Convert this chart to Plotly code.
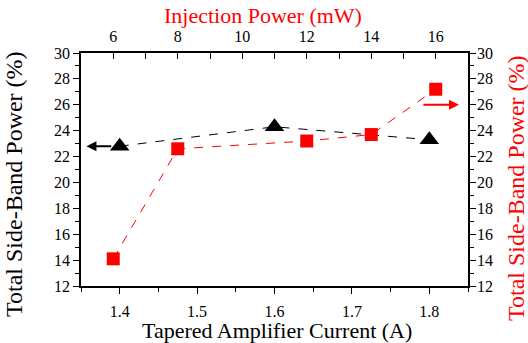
import plotly.graph_objects as go

# Data
ta_current = [1.4, 1.6, 1.8]                 # A (bottom axis)
sideband_vs_current = [22.8, 24.3, 23.3]     # % (left axis)

injection_power = [6, 8, 12, 14, 16]          # mW (top axis)
sideband_vs_power = [14.1, 22.6, 23.2, 23.7, 27.2]  # % (right axis)

FONT = "Liberation Serif, Times New Roman, Times, serif"

fig = go.Figure()
fig.add_trace(go.Scatter(
    x=ta_current, y=sideband_vs_current, xaxis="x", yaxis="y",
    mode="lines+markers",
    line=dict(color="black", width=1, dash="dash"),
    marker=dict(symbol="triangle-up", size=17, color="black"),
    showlegend=False))
fig.add_trace(go.Scatter(
    x=injection_power, y=sideband_vs_power, xaxis="x2", yaxis="y2",
    mode="lines+markers",
    line=dict(color="red", width=1, dash="dash"),
    marker=dict(symbol="square", size=13, color="red"),
    showlegend=False))

axis_common = dict(showgrid=False, zeroline=False, showline=True,
                   linecolor="black", linewidth=1.5,
                   tickcolor="black", tickwidth=1.3, automargin=False,
                   tickfont=dict(family=FONT, size=16, color="black"))

W, H = 528, 343
L, R, T, B = 81, 60, 53, 57
PW, PH = W - L - R, H - T - B


def px(x):
    return (x - L) / PW


def py(y):
    return (H - B - y) / PH


fig.update_layout(
    width=W, height=H,
    margin=dict(l=L, r=R, t=T, b=B),
    paper_bgcolor="white", plot_bgcolor="white",
    font=dict(family=FONT),
    xaxis=dict(**axis_common, range=[1.35, 1.85], dtick=0.1, tick0=1.4,
               ticks="outside", ticklen=6, ticklabelstandoff=4,
               minor=dict(dtick=0.05, tick0=1.35, ticks="outside", ticklen=4,
                          tickcolor="black", tickwidth=1.3)),
    xaxis2=dict(**axis_common, range=[5, 17], dtick=2, tick0=6,
                overlaying="x", side="top", anchor="y",
                ticks="inside", ticklen=6, ticklabelstandoff=3,
                minor=dict(dtick=1, tick0=5, ticks="inside", ticklen=6,
                           tickcolor="black", tickwidth=1.3)),
    yaxis=dict(**axis_common, range=[12, 30], dtick=2,
               ticks="outside", ticklen=6,
               minor=dict(dtick=1, ticks="outside", ticklen=4,
                          tickcolor="black", tickwidth=1.3)),
    yaxis2=dict(**axis_common, range=[12, 30], dtick=2,
                overlaying="y", side="right", anchor="x",
                ticks="outside", ticklen=6, ticklabelstandoff=-2,
                minor=dict(dtick=1, ticks="outside", ticklen=4,
                           tickcolor="black", tickwidth=1.3)),
)

# Axis titles as annotations (positions in window pixels)
titles = [
    dict(text="Tapered Amplifier Current (A)", x=277, y=330, color="black", angle=0, size=22),
    dict(text="Injection Power (mW)", x=263, y=16, color="red", angle=0, size=22),
    dict(text="Total Side-Band Power (%)", x=14, y=184, color="black", angle=-90, size=24),
    dict(text="Total Side-Band Power (%)", x=516, y=188, color="red", angle=-90, size=24),
]
for t in titles:
    fig.add_annotation(text=t["text"], x=px(t["x"]), y=py(t["y"]), xref="paper", yref="paper",
                       xanchor="center", yanchor="middle", showarrow=False,
                       textangle=t["angle"], borderpad=0,
                       font=dict(family=FONT, size=t["size"], color=t["color"]))

# Arrows indicating which axis each series belongs to
fig.add_annotation(x=1.357, y=sideband_vs_current[0], ax=1.391, ay=sideband_vs_current[0],
                   xref="x", yref="y", axref="x", ayref="y",
                   showarrow=True, arrowhead=2, arrowsize=1, arrowwidth=2,
                   arrowcolor="black", text="")
fig.add_annotation(x=16.72, y=26, ax=15.57, ay=26,
                   xref="x2", yref="y2", axref="x2", ayref="y2",
                   showarrow=True, arrowhead=2, arrowsize=1, arrowwidth=2,
                   arrowcolor="red", text="")

# remove the default 8px page margin so the figure sits at the window origin
fig.write_html("out.html", config={"displayModeBar": False},
               post_script="document.body.style.margin='0';")
